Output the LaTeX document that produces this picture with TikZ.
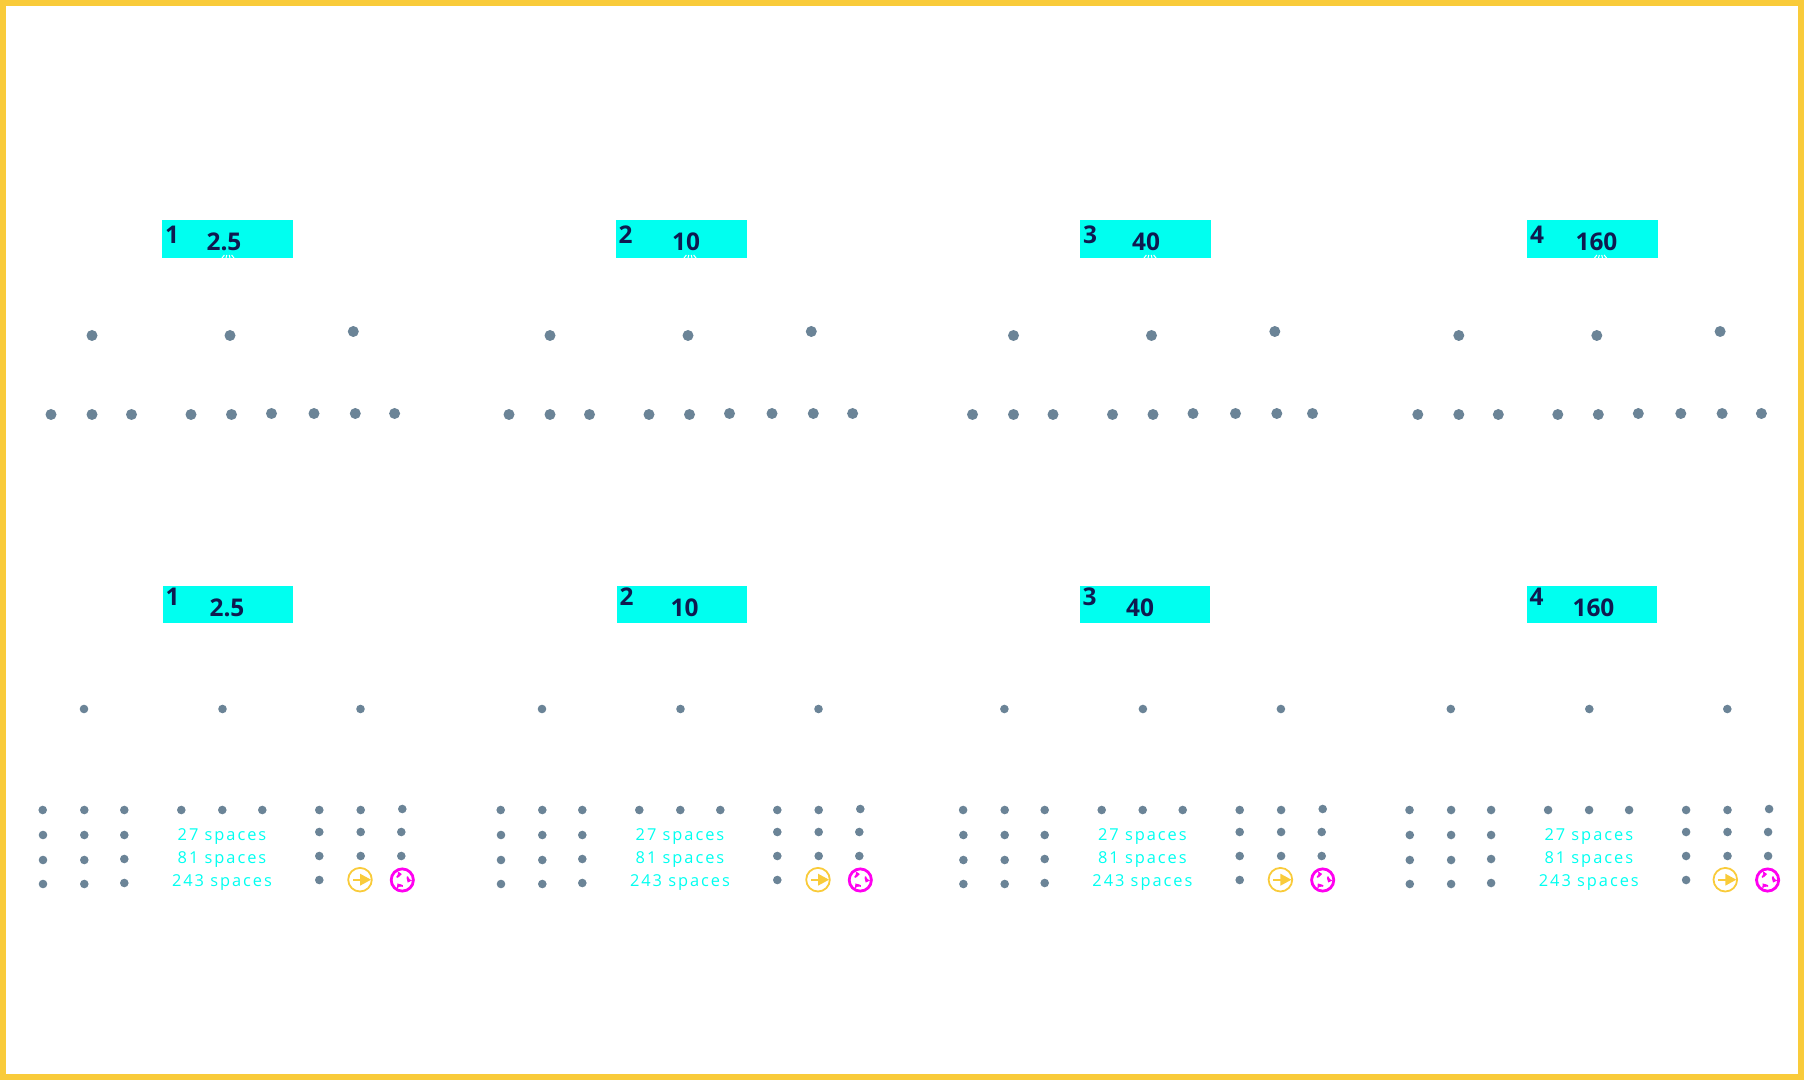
\documentclass[tikz,border=0pt]{standalone}
\usepackage{fontspec}
\setmainfont{Open Sans}
\newfontfamily\spacedfont[LetterSpace=12]{Open Sans}
\usetikzlibrary{arrows.meta}
\definecolor{framegold}{HTML}{F9CB3A}
\definecolor{dotgray}{HTML}{6B8497}
\definecolor{boxcyan}{HTML}{00FFF0}
\definecolor{navy}{HTML}{0F1A50}
\definecolor{ringpink}{HTML}{FF00F0}
\begin{document}
\begin{tikzpicture}[x=0.5pt,y=-0.5pt,
    valbox/.style={fill=boxcyan,anchor=north west,inner sep=0pt,minimum width=65.5pt},
    valtext/.style={text=navy,font=\fontsize{12.2}{14}\selectfont\bfseries,inner sep=0pt},
    spacetext/.style={text=boxcyan,font=\fontsize{8.2}{10}\spacedfont,inner sep=0pt}]
  \useasboundingbox (0,0) rectangle (1804,1080);
  % Marco exterior
  \draw[framegold,line width=3pt] (3,3) rectangle (1801,1077);
  % Fila superior: recuadros
  \foreach \i/\val/\boxx/\valx in {1/2.5/162/224,2/10/615.5/686,3/40/1080/1146,4/160/1527/1596.5}{
    \node[valbox,minimum height=19pt] (boxtop\i) at (\boxx,220) {};
    \foreach \a in {-6,-2,2,6}{
      \draw[white,line width=0.5pt] (\valx+4+\a,258) -- (\valx+4+\a*0.6,255);
    }
    \node[valtext] (numtop\i) at (\boxx+10,235) {\i};
    \node[valtext] (valtop\i) at (\valx,241.5) {\val};
  }
  % Fila inferior: recuadros
  \foreach \i/\val/\boxx/\valx in {1/2.5/163/227,2/10/617/684.5,3/40/1080/1140,4/160/1527/1593.5}{
    \node[valbox,minimum height=18.5pt,minimum width=65pt] (boxbot\i) at (\boxx,586) {};
    \node[valtext] (numbot\i) at (\boxx+9.5,597) {\i};
    \node[valtext] (valbot\i) at (\valx,607.5) {\val};
  }
  % Puntos superiores
  \foreach \dx/\last in {0/394.6,458/394.6,921.5/391,1366.8/394.6}{
    \foreach \x/\y in {92/335.5,230/335.5,353.3/331.5,51/414.5,92/414.5,131.5/414.5,191/414.5,231.5/414.5,271.5/413.5,314/413.5,355.3/413.5}{
      \fill[dotgray] (\x+\dx,\y) circle (2.75pt);
    }
    \fill[dotgray] (\last+\dx,413.5) circle (2.75pt);
  }
  % Puntos inferiores
  \foreach \dx in {0,458,920.4,1366.8}{
    \foreach \x/\y in {84/709,222.5/709,360.5/709,
        42.7/810,84.3/810,124.3/810,181.3/810,222.3/810,262.3/810,319.3/810,360.7/810,402.3/809,
        43/835,84.3/835,124.3/835,319.3/832,360.7/832,401.3/832,
        43/860,84.3/860,124.3/859,319.3/856,360.7/856,401.3/856,
        43/884,84.3/884,124.3/883,319.3/880}{
      \fill[dotgray] (\x+\dx,\y) circle (2.15pt);
    }
    \node[spacetext] at (222+\dx,836.7) {27 spaces};
    \node[spacetext] at (222+\dx,859.7) {81 spaces};
    \node[spacetext] at (222+\dx,882.7) {243 spaces};
  }
  % Iconos
  \foreach \dx in {0,458,920.4,1365.3}{
    \draw[framegold,line width=0.9pt] (360+\dx,879.7) circle (5.9pt);
    \fill[framegold] (353+\dx,878.7) rectangle (361+\dx,880.7);
    \fill[framegold] (360+\dx,873.7) -- (371+\dx,879.7) -- (360+\dx,885.7) -- cycle;
    \draw[ringpink,line width=1.4pt] (402.3+\dx,880) circle (5.55pt);
    \foreach \r in {0,120,240}{
      \draw[ringpink,line width=0.8pt,-{Triangle[length=1.9pt,width=3pt]}]
        (402.3+\dx,880) ++(\r+155:3pt) arc[start angle=\r+155,end angle=\r+95,radius=3pt];
    }
  }
\end{tikzpicture}
\end{document}
